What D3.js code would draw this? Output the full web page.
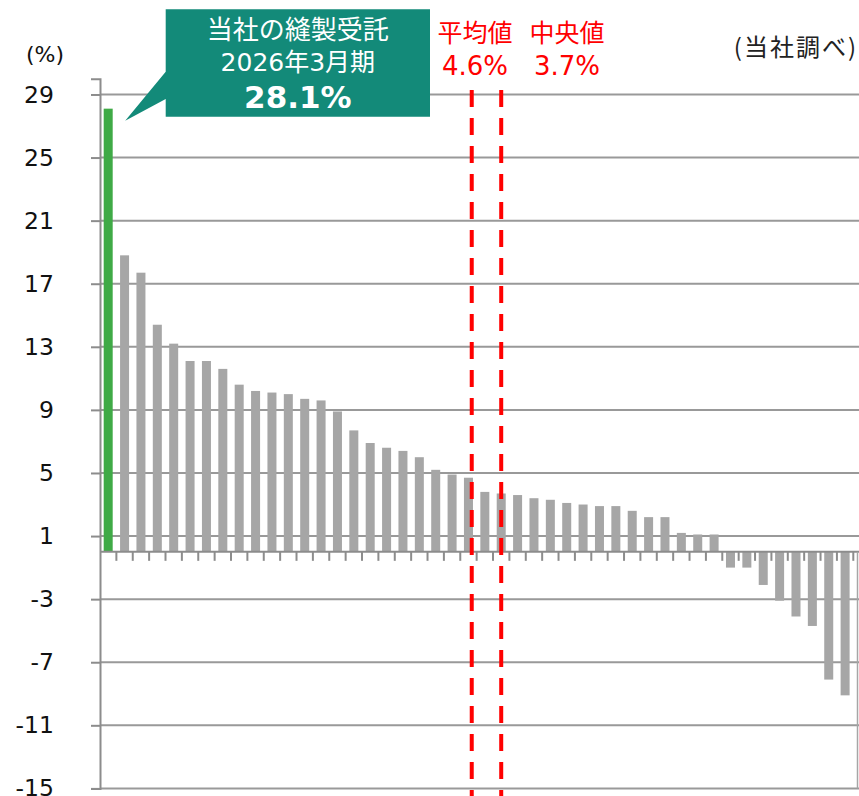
<!DOCTYPE html>
<html>
<head>
<meta charset="utf-8">
<script src="https://cdnjs.cloudflare.com/ajax/libs/d3/7.8.5/d3.min.js"></script>
<style>
  body { margin: 0; background: #fff; }
  svg { display: block; font-family: "DejaVu Sans", "Noto Sans CJK JP", sans-serif; }
</style>
</head>
<body>
<script>
// growth rates, sorted, first bar = our company
const values = [28.1, 18.8, 17.7, 14.4, 13.2, 12.1, 12.1, 11.6, 10.6, 10.2,
                10.1, 10.0, 9.7, 9.6, 8.9, 7.7, 6.9, 6.6, 6.4, 6.0,
                5.2, 4.9, 4.7, 3.8, 3.7, 3.6, 3.4, 3.3, 3.1, 3.0,
                2.9, 2.9, 2.6, 2.2, 2.2, 1.2, 1.1, 1.1, -1.0, -1.0,
                -2.1, -3.1, -4.1, -4.7, -8.1, -9.1];
const yTicks = [29, 25, 21, 17, 13, 9, 5, 1, -3, -7, -11, -15];
const calloutLines = ["当社の縫製受託", "2026年3月期", "28.1%"];
// reference lines: position given as category index
const refNames = ["平均値", "中央値"];
const refValues = ["4.6%", "3.7%"];
const refAt = [22.2, 24];

const W = 859, H = 796;
const plotLeft = 100, plotRight = 853.3, plotTop = 78.7, plotBottom = 788.4;

const svg = d3.select("body").append("svg")
  .attr("width", W)
  .attr("height", H);

const x = d3.scaleBand()
  .domain(d3.range(values.length))
  .range([plotLeft, plotRight])
  .paddingInner(0.45)
  .paddingOuter(0.225);

const y = d3.scaleLinear()
  .domain([-15, 30])
  .range([plotBottom, plotTop]);

// index -> band centre
const xPos = d3.scaleLinear()
  .domain([0, values.length - 1])
  .range([x(0) + x.bandwidth() / 2, x(values.length - 1) + x.bandwidth() / 2]);

//gridlines
svg.append("g").selectAll("line")
  .data(yTicks)
  .enter().append("line")
    .attr("x1", plotLeft).attr("x2", W)
    .attr("y1", d => y(d)).attr("y2", d => y(d))
    .attr("stroke", "#999").attr("stroke-width", 2);

//y axis
const yAxis = d3.axisLeft(y).tickValues(yTicks).tickSize(9).tickPadding(37)
  .tickFormat(d => String(d));
const gy = svg.append("g").attr("transform", "translate(" + plotLeft + ",0)").call(yAxis);
gy.select(".domain").attr("stroke", "#8c8c8c").attr("stroke-width", 2);
gy.selectAll(".tick line").attr("stroke", "#8c8c8c").attr("stroke-width", 2);
gy.selectAll(".tick text").attr("font-size", 23.5).attr("fill", "#111")
  .attr("font-family", "DejaVu Sans");

svg.append("text")
  .attr("x", 64).attr("y", 62)
  .attr("text-anchor", "end")
  .attr("font-size", 22).attr("fill", "#111")
  .text("(%)");

//bars
svg.append("g").selectAll("rect")
  .data(values)
  .enter().append("rect")
    .attr("x", (d, i) => x(i))
    .attr("width", x.bandwidth())
    .attr("y", d => y(Math.max(0, d)))
    .attr("height", d => Math.abs(y(d) - y(0)))
    .attr("fill", (d, i) => i === 0 ? "#3faa46" : "#a6a6a6");

//category axis on zero line
const edges = d3.range(values.length + 1).map(i => plotLeft + i * x.step());
svg.append("g").selectAll("line")
  .data(edges.slice(1))
  .enter().append("line")
    .attr("x1", d => d).attr("x2", d => d)
    .attr("y1", y(0)).attr("y2", y(0) + 9)
    .attr("stroke", "#8c8c8c").attr("stroke-width", 2);
svg.append("line")
  .attr("x1", plotLeft).attr("x2", W)
  .attr("y1", y(0)).attr("y2", y(0))
  .attr("stroke", "#8c8c8c").attr("stroke-width", 2);
svg.append("line")
  .attr("x1", 857.5).attr("x2", 857.5)
  .attr("y1", y(0)).attr("y2", y(-15))
  .attr("stroke", "#a6a6a6").attr("stroke-width", 1.5);

//mean / median lines
svg.append("g").selectAll("line")
  .data(refAt)
  .enter().append("line")
    .attr("x1", d => xPos(d)).attr("x2", d => xPos(d))
    .attr("y1", 90).attr("y2", H)
    .attr("stroke", "#ff0000").attr("stroke-width", 4)
    .attr("stroke-dasharray", "17 11");

const refLabelX = [475, 567];
refNames.forEach((n, i) => {
  svg.append("text")
    .attr("x", refLabelX[i]).attr("y", 42)
    .attr("text-anchor", "middle")
    .attr("font-family", "Noto Sans CJK JP")
    .attr("font-size", 25).attr("fill", "#ff0000")
    .text(n);
  svg.append("text")
    .attr("x", refLabelX[i]).attr("y", 75)
    .attr("text-anchor", "middle")
    .attr("font-size", 26).attr("fill", "#ff0000")
    .text(refValues[i]);
});

svg.append("text")
  .attr("x", 858).attr("y", 56)
  .attr("text-anchor", "end")
  .attr("font-family", "Noto Sans CJK JP")
  .attr("font-size", 24).attr("letter-spacing", 2).attr("fill", "#222")
  .text("(当社調べ)");

//callout box for our bar
const bx0 = 165.7, bx1 = 430, by0 = 9.3, by1 = 116.7;
const tip = [xPos(0) + 17, y(values[0]) + 12];
svg.append("path")
  .attr("d", `M${bx0},${by0}H${bx1}V${by1}H${bx0}V99L${tip[0]},${tip[1]}L${bx0},71.7Z`)
  .attr("fill", "#138a79");

const cx = (bx0 + bx1) / 2;
const callout = svg.append("text")
  .attr("text-anchor", "middle")
  .attr("fill", "#fff");
callout.append("tspan")
  .attr("x", cx).attr("y", 39)
  .attr("font-family", "Noto Sans CJK JP").attr("font-size", 26)
  .text(calloutLines[0]);
callout.append("tspan")
  .attr("x", cx).attr("y", 71)
  .attr("font-family", "DejaVu Sans, Noto Sans CJK JP").attr("font-size", 25)
  .text(calloutLines[1]);
callout.append("tspan")
  .attr("x", cx).attr("y", 108)
  .attr("font-size", 31).attr("font-weight", "bold")
  .text(calloutLines[2]);
</script>
</body>
</html>
